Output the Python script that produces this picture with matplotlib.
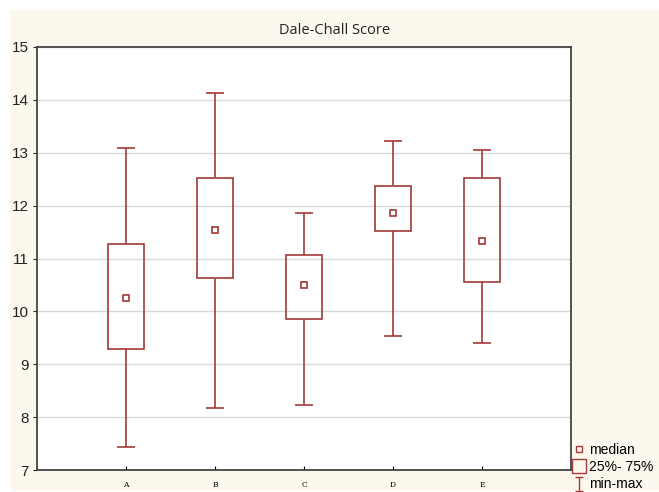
import numpy as np
import matplotlib.pyplot as plt
from matplotlib.lines import Line2D
from matplotlib.patches import Rectangle
from matplotlib.path import Path

groups = ['A', 'B', 'C', 'D', 'E']
vmin = [7.43, 8.18, 8.23, 9.54, 9.40]
q1 = [9.29, 10.64, 9.86, 11.52, 10.55]
median = [10.26, 11.54, 10.49, 11.86, 11.33]
q3 = [11.27, 12.53, 11.07, 12.38, 12.53]
vmax = [13.09, 14.13, 11.86, 13.23, 13.06]

red = '#a33a3a'

fig = plt.figure(figsize=(6.59, 4.92), dpi=100, facecolor='white')
fig.patches.append(Rectangle((10 / 659, 1 / 492), 1 - 10 / 659, 1 - 11 / 492,
                             transform=fig.transFigure, facecolor='#fdf8ee',
                             edgecolor='none', zorder=-10))

ax = fig.add_axes([37 / 659, 1 - 470 / 492, 534 / 659, 423 / 492])
ax.set_facecolor('white')

x = np.arange(1, len(groups) + 1)
ax.bar(x, np.array(q3) - np.array(q1), bottom=q1, width=0.4, fill=False,
       edgecolor=red, linewidth=1.2, zorder=3)
ax.vlines(x, vmin, q1, color=red, linewidth=1.2, zorder=3)
ax.vlines(x, q3, vmax, color=red, linewidth=1.2, zorder=3)
ax.hlines(vmin, x - 0.1, x + 0.1, color=red, linewidth=1.2, zorder=3)
ax.hlines(vmax, x - 0.1, x + 0.1, color=red, linewidth=1.2, zorder=3)
ax.plot(x, median, 's', ms=5, mfc='white', mec=red, mew=1.2, zorder=4)

ax.set_xlim(0, 6)
ax.set_ylim(7, 15)
ax.set_xticks(x)
ax.set_xticklabels(groups, family='DejaVu Serif', fontsize=5.5)
ax.set_yticks(range(7, 16))
ax.set_yticklabels([str(v) for v in range(7, 16)], family='Liberation Sans', fontsize=11)
ax.tick_params(axis='y', length=3, width=0.8, pad=3, colors='#222222')
ax.tick_params(axis='x', direction='in', length=3, width=0.8, pad=8)
ax.yaxis.grid(True, color='#d8d8d8', linewidth=1)
ax.set_axisbelow(True)
for s in ax.spines.values():
    s.set_color('#444444')
    s.set_linewidth(1.3)

fig.text(335 / 659, 1 - 30 / 492, 'Dale-Chall Score', ha='center', va='center',
         fontsize=10.5, family='Open Sans', color='#222222')

minmax = Path([(0, -1), (0, 1), (-0.6, 1), (0.6, 1), (-0.6, -1), (0.6, -1)],
              [Path.MOVETO, Path.LINETO, Path.MOVETO, Path.LINETO, Path.MOVETO, Path.LINETO])
handles = [
    Line2D([], [], ls='none', marker='s', ms=5, mfc='none', mec=red, mew=1.0),
    Line2D([], [], ls='none', marker='s', ms=10, mfc='none', mec=red, mew=1.0),
    Line2D([], [], ls='none', marker=minmax, ms=10, mfc='none', mec=red, mew=1.0),
]
fig.legend(handles, ['median', '25%- 75%', 'min-max'], loc='center left',
           bbox_to_anchor=(564 / 659, 1 - 467 / 492), frameon=False,
           prop={'family': 'Liberation Sans', 'size': 10},
           handlelength=0.8, handletextpad=0.3, labelspacing=0.25, borderpad=0.2)

fig.savefig('out.png', dpi=100, facecolor=fig.get_facecolor())
